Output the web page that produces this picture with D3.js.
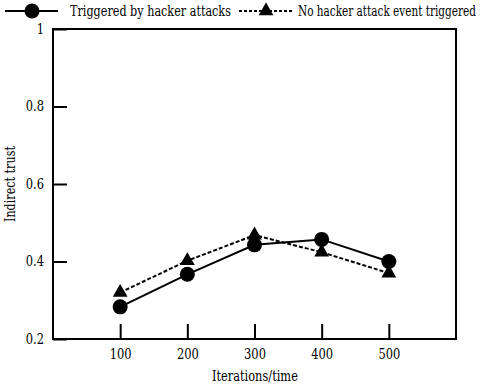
<!DOCTYPE html>
<html>
<head>
<meta charset="utf-8">
<script src="https://cdn.jsdelivr.net/npm/d3@7"></script>
<style>
body{margin:0;background:#fff}
svg text{font-family:"DejaVu Serif",serif}
</style>
</head>
<body>
<div id="chart"></div>
<script>
var iterations=[100,200,300,400,500]
var attacked=[0.283,0.367,0.443,0.457,0.400]
var noAttack=[0.320,0.402,0.468,0.424,0.370]
var yTicks=[0.2,0.4,0.6,0.8,1]
var legendNames=["Triggered by hacker attacks","No hacker attack event triggered"]

var width=484,height=384
var margin={top:29,left:53,right:28,bottom:45}
var w=width-margin.left-margin.right
var h=height-margin.top-margin.bottom

var svg=d3.select("#chart").append("svg")
	.attr("width",width)
	.attr("height",height)
var g=svg.append("g")
	.attr("transform","translate("+margin.left+","+margin.top+")")

var x=d3.scaleLinear().domain([0,600]).range([0,w])
var y=d3.scaleLinear().domain([0.2,1]).range([h,0])

// text squeezed to a set width (the serif here is wider than the reference's)
function fitText(sel,px,py,len,rot){
	var n=sel.node().getComputedTextLength()
	var s=len/n
	sel.attr("x",null).attr("y",null)
		.attr("transform","translate("+px+","+py+")"+(rot?" rotate(-90)":"")+" scale("+s+",1)")
}

// axes, ticks point inward
var xa=g.append("g")
	.attr("transform","translate(0,"+h+")")
	.call(d3.axisBottom(x).tickValues(iterations).tickSize(-15).tickPadding(10))
var ya=g.append("g")
	.call(d3.axisLeft(y).tickValues(yTicks).tickFormat(function(d){return d}).tickSize(-14).tickPadding(9))
g.selectAll(".domain").remove()
g.selectAll(".tick line").attr("stroke","#000").attr("stroke-width",2)
g.selectAll(".tick text").attr("font-size","14px").attr("fill","#000")
xa.attr("font-family",null)
ya.attr("font-family",null)
xa.selectAll(".tick text").attr("transform","scale(0.82,1)")
	.attr("x",0)
	.attr("y",20).attr("dy",null)
ya.selectAll(".tick text").attr("transform","scale(0.82,1)")
	.attr("x",-9/0.82)

g.append("rect")
	.attr("width",w).attr("height",h)
	.attr("fill","none").attr("stroke","#000").attr("stroke-width",2)

var line1=d3.line().x(function(d,i){return x(iterations[i])}).y(function(d){return y(d)})

g.append("path").datum(noAttack)
	.attr("d",line1).attr("fill","none").attr("stroke","#000")
	.attr("stroke-width",2).attr("stroke-dasharray","4,2")
g.append("path").datum(attacked)
	.attr("d",line1).attr("fill","none").attr("stroke","#000")
	.attr("stroke-width",2)

var tri=d3.symbol().type(d3.symbolTriangle).size(95)
g.selectAll(".tri").data(noAttack).enter().append("path")
	.attr("d",tri)
	.attr("transform",function(d,i){return "translate("+x(iterations[i])+","+y(d)+")"})
	.attr("fill","#000")
g.selectAll(".dot").data(attacked).enter().append("circle")
	.attr("cx",function(d,i){return x(iterations[i])})
	.attr("cy",function(d){return y(d)})
	.attr("r",7.5).attr("fill","#000")

// legend
var lg=svg.append("g")
lg.append("line").attr("x1",5).attr("x2",58).attr("y1",11).attr("y2",11)
	.attr("stroke","#000").attr("stroke-width",2)
lg.append("circle").attr("cx",32).attr("cy",11).attr("r",7.5).attr("fill","#000")
fitText(lg.append("text").attr("font-size","15px").text(legendNames[0]),70,16,161)
lg.append("line").attr("x1",239).attr("x2",293).attr("y1",11).attr("y2",11)
	.attr("stroke","#000").attr("stroke-width",2).attr("stroke-dasharray","3,2")
lg.append("path").attr("d",tri).attr("transform","translate(266,11)").attr("fill","#000")
fitText(lg.append("text").attr("font-size","15px").text(legendNames[1]),298,16,178)

// axis titles
fitText(svg.append("text").attr("font-size","14px").text("Iterations/time"),212,381,86)
fitText(svg.append("text").attr("font-size","14px").text("Indirect trust"),15,222,76,true)
</script>
</body>
</html>
